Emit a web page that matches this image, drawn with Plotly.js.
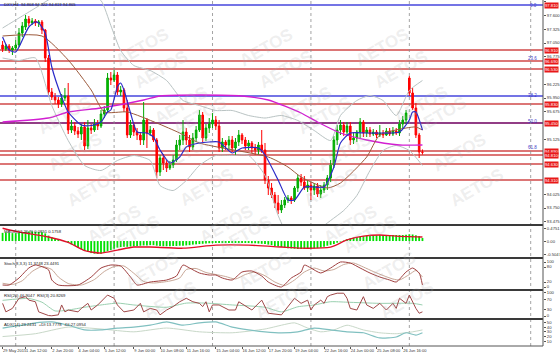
<!DOCTYPE html>
<html><head><meta charset="utf-8">
<script src="https://cdn.plot.ly/plotly-3.0.1.min.js"></script>
<style>html,body{margin:0;padding:0;background:#fff}#chart{width:560px;height:356px}</style>
</head><body><div id="chart"></div>
<script>
// ---------------- DATA ----------------
const openP = [97.01,96.93,96.99,96.91,96.95,97.01,97.25,97.37,97.53,97.45,
97.49,97.45,97.47,97.31,96.75,96.07,95.97,95.91,95.83,95.95,
95.99,95.31,95.39,95.29,95.23,95.37,94.99,95.35,95.31,95.43,
95.39,95.63,95.71,96.35,96.31,96.41,96.07,96.11,95.75,95.21,
95.41,95.27,95.21,95.11,95.51,95.25,95.31,95.11,94.47,94.75,
94.65,94.55,94.61,94.71,95.01,95.11,95.27,95.11,94.97,95.15,
95.31,95.61,95.15,95.35,95.43,95.51,95.39,94.95,95.07,95.01,
95.11,94.95,95.07,95.21,95.11,94.99,95.05,94.95,94.91,95.01,
94.91,94.31,94.15,94.01,93.85,93.71,93.81,93.91,93.95,93.91,
94.15,94.35,94.27,94.15,94.21,94.11,94.19,94.03,94.11,94.21,
94.35,94.61,95.11,95.31,95.41,95.27,95.39,95.11,95.15,95.27,
95.47,95.25,95.31,95.23,95.27,95.21,95.25,95.21,95.29,95.23,
95.29,95.25,95.43,95.51,96.35,96.05,95.75,95.21,94.868];
const highP = [97.09,97.03,97.03,96.99,97.11,97.35,97.47,97.61,97.59,97.55,
97.53,97.51,97.51,97.33,96.81,96.15,96.05,95.97,96.03,96.15,
96.25,95.51,95.47,95.37,95.43,95.47,95.51,95.43,95.53,95.51,
95.71,95.79,96.45,96.47,96.51,96.47,96.19,96.15,95.91,95.51,
95.47,95.35,95.27,95.87,95.55,95.39,95.35,95.15,94.81,94.83,
94.71,94.69,94.81,95.11,95.21,95.51,95.35,95.21,95.25,95.39,
95.71,95.67,95.43,95.55,95.65,95.59,95.51,95.15,95.11,95.19,
95.19,95.15,95.31,95.25,95.17,95.11,95.09,95.03,95.07,95.31,
95.05,94.39,94.25,94.07,94.01,93.91,93.97,94.01,93.99,94.19,
94.41,94.43,94.39,94.31,94.27,94.25,94.25,94.21,94.27,94.41,
94.71,95.19,95.41,95.51,95.47,95.47,95.47,95.27,95.31,95.55,
95.51,95.37,95.37,95.33,95.31,95.41,95.31,95.35,95.35,95.37,
95.35,95.51,95.59,95.71,96.39,96.15,95.85,95.25,94.922];
const lowP = [96.87,96.89,96.85,96.81,96.91,96.97,97.17,97.31,97.39,97.41,
97.39,97.37,97.23,96.67,95.99,95.91,95.83,95.75,95.77,95.89,
95.23,95.25,95.21,95.15,95.11,94.91,94.93,95.23,95.27,95.31,
95.35,95.55,95.67,96.21,96.27,96.01,95.99,95.67,95.15,95.15,
95.19,95.11,95.01,95.01,94.95,95.19,95.07,94.35,94.39,94.51,
94.47,94.51,94.55,94.67,94.91,95.01,95.01,94.87,94.91,95.07,
95.27,95.07,95.09,95.25,95.35,95.31,94.87,94.87,94.91,94.91,
94.87,94.81,94.99,95.03,94.91,94.91,94.85,94.81,94.81,94.85,
94.23,94.01,93.95,93.75,93.63,93.65,93.75,93.85,93.83,93.87,
94.07,94.19,94.11,94.07,93.91,94.01,93.97,93.95,94.05,94.11,
94.27,94.55,95.01,95.21,95.19,95.21,95.01,95.03,95.07,95.15,
95.17,95.17,95.17,95.19,95.15,95.17,95.15,95.19,95.19,95.19,
95.21,95.19,95.35,95.43,95.99,95.71,95.15,94.75,94.819];
const closeP = [96.93,96.99,96.91,96.95,97.01,97.25,97.39,97.53,97.45,97.49,
97.45,97.47,97.31,96.75,96.07,95.97,95.91,95.83,95.95,95.99,
95.31,95.39,95.29,95.23,95.37,94.99,95.35,95.31,95.43,95.39,
95.63,95.71,96.35,96.31,96.41,96.07,96.11,95.75,95.21,95.41,
95.27,95.21,95.11,95.51,95.25,95.31,95.11,94.47,94.75,94.65,
94.55,94.61,94.71,95.01,95.11,95.27,95.11,94.97,95.15,95.31,
95.61,95.15,95.35,95.43,95.51,95.39,94.95,95.07,95.01,95.11,
94.95,95.07,95.21,95.11,94.99,95.05,94.95,94.91,95.01,94.91,
94.31,94.15,94.01,93.85,93.71,93.81,93.91,93.95,93.91,94.15,
94.35,94.27,94.15,94.21,94.11,94.19,94.03,94.11,94.21,94.35,
94.61,95.11,95.31,95.41,95.27,95.39,95.11,95.15,95.27,95.47,
95.25,95.31,95.23,95.27,95.21,95.25,95.21,95.29,95.23,95.29,
95.25,95.43,95.51,95.65,96.05,95.75,95.21,94.87,94.865];

// moving averages / bands: [bar, value]
const maFast = [[0,97.17],[2,96.91],[4,96.87],[5,96.97],[8,97.37],[10,97.47],[11,97.45],[13,97.25],[15,96.57],[18,95.97],[20,95.67],[24,95.41],[27,95.40],[30,95.47],[32,95.67],[33,95.71],[35,96.17],[36,96.25],[37,96.11],[39,95.65],[41,95.27],[44,95.25],[46,95.17],[48,94.91],[51,94.65],[54,94.77],[56,94.97],[60,95.05],[63,95.07],[66,95.07],[70,94.85],[73,94.95],[78,94.95],[80,94.81],[84,94.31],[87,93.91],[89,93.91],[92,94.17],[95,94.17],[98,94.17],[101,94.57],[103,95.05],[106,95.25],[111,95.25],[115,95.25],[121,95.27],[124,95.51],[125,95.67],[126,95.67],[128,95.31]];
const maMid = [[0,97.19],[12,97.19],[20,96.71],[27,96.11],[31,95.67],[38,95.67],[47,95.45],[54,95.25],[60,95.05],[81,94.77],[87,94.57],[91,94.37],[99,94.15],[103,94.25],[111,94.77],[115,95.21],[123,95.35],[126,95.37],[128,95.31]];
const maSlow = [[0,95.47],[14,95.55],[20,95.67],[30,95.75],[43,95.91],[48,95.99],[60,96.01],[73,95.99],[81,95.91],[91,95.65],[96,95.47],[103,95.25],[111,95.11],[121,95.01],[128,95.01]];
const bbUpper = [[0,97.35],[5,97.55],[10,97.75],[15,97.95],[20,98.1],[25,98.1],[30,97.9],[33,97.4],[36,96.9],[40,96.6],[45,96.5],[50,96.3],[55,95.9],[60,95.8],[65,95.7],[70,95.7],[75,95.6],[80,95.55],[85,95.6],[90,95.5],[95,95.3],[100,95.1],[103,95.6],[108,95.9],[112,96.0],[116,95.9],[120,95.6],[124,96.1],[128,96.3]];
const bbLower = [[0,96.75],[5,96.7],[10,96.75],[15,95.8],[20,95.1],[25,94.6],[30,94.5],[35,94.7],[40,94.8],[45,94.7],[48,94.2],[52,94.1],[56,94.3],[60,94.6],[65,94.8],[70,94.8],[75,94.8],[80,94.4],[84,93.6],[88,93.1],[92,93.1],[96,93.3],[100,93.5],[104,93.7],[108,94.0],[112,94.5],[116,94.9],[120,95.0],[124,94.9],[128,94.6]];

// horizontal levels
const redLevels = [96.91, 96.69, 96.53, 95.83, 95.45, 94.89, 94.81, 94.63, 94.31];
const blueLevels = [97.81, 95.99];
const purpleLevels = [95.45];
const boxLevels = [97.81, 96.91, 96.69, 96.53, 95.83, 95.45, 94.89, 94.81, 94.63, 94.31];
const fibLabels = ['0.0','23.6','38.2','50.0','61.8'];
const fibPrices = [97.80, 96.75, 96.01, 95.49, 94.97];
const priceTicks = [93.475,93.750,94.025,95.125,95.675,95.950,96.225,96.775,97.050,97.325,97.600,97.875];

// MACD histogram (one value per bar) and signal [bar, value]
const macdHist = [0.30,0.31,0.30,0.29,0.29,0.30,0.32,0.34,0.35,0.35,
0.34,0.33,0.32,0.28,0.20,0.14,0.09,0.05,0.02,0.00,
-0.06,-0.12,-0.18,-0.24,-0.30,-0.36,-0.40,-0.44,-0.46,-0.47,
-0.46,-0.42,-0.37,-0.33,-0.28,-0.24,-0.22,-0.21,-0.21,-0.20,
-0.19,-0.18,-0.17,-0.16,-0.16,-0.15,-0.15,-0.17,-0.18,-0.19,
-0.19,-0.19,-0.18,-0.18,-0.17,-0.17,-0.16,-0.15,-0.13,-0.12,
-0.11,-0.10,-0.09,-0.08,-0.07,-0.07,-0.07,-0.07,-0.07,-0.07,
-0.07,-0.07,-0.07,-0.07,-0.07,-0.07,-0.08,-0.08,-0.09,-0.10,
-0.11,-0.13,-0.15,-0.18,-0.20,-0.22,-0.24,-0.26,-0.27,-0.28,
-0.29,-0.29,-0.29,-0.28,-0.27,-0.27,-0.26,-0.24,-0.21,-0.17,
-0.14,-0.11,-0.06,-0.02,0.02,0.07,0.10,0.12,0.14,0.16,
0.18,0.19,0.20,0.21,0.21,0.22,0.22,0.22,0.22,0.22,
0.22,0.22,0.22,0.23,0.25,0.24,0.21,0.18,0.11];
const macdSignal = [[0,0.47],[5,0.33],[14,0.15],[20,-0.05],[25,-0.35],[30,-0.44],[35,-0.33],[40,-0.22],[45,-0.22],[55,-0.26],[65,-0.15],[75,-0.15],[85,-0.22],[91,-0.26],[100,-0.22],[105,0.04],[110,0.18],[115,0.22],[120,0.18],[128,0.15]];
const macdTicks = [0.4751, 0, -0.5047];
const macdTickText = ['0.4751','0.00','-0.5047'];

// Stochastic [bar, value]
const stochMain = [[0,8],[2,8],[5,36],[8,76],[10,88],[14,69],[15,28],[17,8],[23,8],[27,40],[30,76],[33,88],[36,84],[39,40],[41,8],[45,20],[50,28],[53,44],[55,88],[57,76],[60,56],[63,48],[65,48],[67,36],[70,28],[73,60],[76,64],[79,44],[81,20],[85,0],[88,36],[91,60],[92,88],[94,76],[97,56],[100,76],[103,100],[106,96],[109,76],[112,56],[115,40],[118,28],[120,20],[123,60],[125,76],[127,56],[128,8]];
const stochSignal = [[0,15],[3,10],[6,25],[9,62],[12,82],[15,70],[17,40],[20,14],[24,8],[28,30],[31,62],[34,82],[37,84],[40,55],[43,22],[46,16],[51,24],[54,36],[56,70],[59,74],[62,58],[65,50],[68,42],[71,32],[74,50],[77,60],[80,45],[83,20],[86,6],[89,28],[92,60],[95,76],[98,64],[101,70],[104,90],[107,96],[110,80],[113,62],[116,46],[119,32],[121,28],[124,50],[126,66],[128,40]];

// RSI [bar, value]
const rsiMain = [[0,55],[1,18],[3,33],[5,77],[7,84],[8,69],[10,62],[11,18],[14,2],[15,1],[17,5],[18,48],[19,18],[20,26],[23,18],[24,33],[26,55],[27,26],[29,48],[31,77],[32,91],[34,77],[35,48],[37,18],[40,26],[42,55],[43,18],[45,33],[47,26],[48,5],[50,26],[52,41],[54,62],[56,77],[58,62],[60,55],[61,41],[62,62],[63,18],[64,48],[66,48],[69,26],[71,26],[72,62],[75,33],[76,26],[79,69],[81,12],[85,5],[87,41],[89,77],[91,55],[93,69],[94,26],[95,48],[97,69],[98,55],[99,84],[100,91],[102,99],[104,99],[105,77],[106,33],[108,26],[110,84],[111,48],[113,33],[115,55],[117,26],[119,55],[120,33],[121,77],[123,55],[124,91],[125,62],[126,33],[127,12],[128,18]];
const rsiSignal = [[0,68],[8,76],[12,60],[16,22],[20,26],[25,38],[30,48],[35,56],[40,48],[50,38],[56,56],[62,56],[70,48],[80,38],[85,18],[90,40],[95,48],[100,62],[105,60],[115,55],[125,55],[128,48]];

// ADX [bar, value]
const adxMain = [[0,38],[6,44],[10,49],[15,51],[20,44],[25,34],[30,34],[35,38],[40,40],[45,44],[50,51],[55,44],[60,49],[65,51],[70,40],[75,34],[80,30],[85,28],[90,30],[95,38],[100,34],[105,30],[110,28],[115,17],[120,19],[123,28],[126,23],[128,28]];
const adxDi = [[0,20],[10,26],[20,40],[30,36],[40,30],[50,38],[60,30],[70,28],[80,36],[85,44],[89,49],[93,38],[97,30],[101,34],[105,44],[110,34],[115,28],[120,26],[125,30],[128,34]];

// time axis labels
const tickBars = [0,7,15,23,31,40,48,56,65,73,81,89,98,106,114,122];
const tickLabels = ['29 May 2015','1 Jun 12:00','2 Jun 20:00','4 Jun 04:00','5 Jun 12:00','9 Jun 00:00','10 Jun 08:00','11 Jun 16:00','15 Jun 04:00','16 Jun 12:00','17 Jun 20:00','19 Jun 04:00','22 Jun 16:00','24 Jun 00:00','25 Jun 08:00','26 Jun 16:00'];
const separatorBars = [4, 34, 64, 94, 124, 161];

const panelLabels = ['DXY,H4  94.868 94.922 94.819 94.865','MACD(12,26,9) 0.0851 0.1758','Stoch(8,3,3) 11.3748 23.4491','RSI(20) 46.9047  RSI(3) 20.8269','ADX(14) 23.2431  +DI:13.7778  -DI:27.0954'];

// ---------------- CHART ----------------
const bars = closeP.map((_, i) => i);
const xs = a => a.map(p => p[0]);
const ys = a => a.map(p => p[1]);
const FONT = 'Liberation Sans, Arial, sans-serif';

function line(arr, yaxis, color, width, shape) {
  return {type:'scatter', mode:'lines', x:xs(arr), y:ys(arr), xaxis:'x', yaxis:yaxis,
    line:{color:color, width:width, shape:shape||'spline', smoothing:0.6}, hoverinfo:'skip', showlegend:false};
}

const traces = [
  line(bbUpper,'y','#b9c3c3',1),
  line(bbLower,'y','#b9c3c3',1),
  line(maSlow,'y','#d21ed2',1.3),
  line(maMid,'y','#9c5a3c',1),
  {type:'candlestick', x:bars, open:openP, high:highP, low:lowP, close:closeP, xaxis:'x', yaxis:'y',
   increasing:{line:{color:'#00a800', width:1}, fillcolor:'#00c000'},
   decreasing:{line:{color:'#ff0000', width:1}, fillcolor:'#ff0000'},
   whiskerwidth:0, hoverinfo:'skip', showlegend:false},
  line(maFast,'y','#2a2ac8',1.2),
  {type:'bar', x:bars, y:macdHist, xaxis:'x', yaxis:'y2', marker:{color:'#00e000', line:{width:0}}, width:0.55, hoverinfo:'skip', showlegend:false},
  line(macdSignal,'y2','#e0102a',1.4),
  line(stochSignal,'y3','#c8a898',1),
  line(stochMain,'y3','#a04040',1),
  line(rsiSignal,'y4','#9ad0b0',1),
  line(rsiMain,'y4','#a04848',1,'linear'),
  line(adxDi,'y5','#c8d8c8',1),
  line(adxMain,'y5','#80c0c0',1.2)
];

const shapes = [];
redLevels.forEach(v => shapes.push({type:'line', xref:'paper', x0:0, x1:1, yref:'y', y0:v, y1:v, line:{color:'#d04848', width:1.5}, layer:'below'}));
blueLevels.forEach(v => shapes.push({type:'line', xref:'paper', x0:0, x1:1, yref:'y', y0:v, y1:v, line:{color:'#4646dc', width:1.3}, layer:'below'}));
purpleLevels.forEach(v => shapes.push({type:'line', xref:'paper', x0:0, x1:1, yref:'y', y0:v, y1:v, line:{color:'#7a2c8c', width:1.5}, layer:'below'}));
separatorBars.forEach(b => shapes.push({type:'line', xref:'x', x0:b, x1:b, yref:'paper', y0:0, y1:1, line:{color:'#8c8c8c', width:0.8, dash:'dot'}, layer:'below'}));
const panelTops = [0.3497, 0.2543, 0.1618, 0.0780];
panelTops.forEach(p => shapes.push({type:'line', xref:'paper', x0:0, x1:1, yref:'paper', y0:p, y1:p, line:{color:'#3a3a3a', width:2}}));
shapes.push({type:'line', xref:'paper', x0:1, x1:1, yref:'paper', y0:0, y1:1, line:{color:'#555', width:1}});
shapes.push({type:'line', xref:'paper', x0:0, x1:1, yref:'paper', y0:0, y1:0, line:{color:'#555', width:1}});

const annotations = [];
// faint diagonal "AETOS" watermarks tiled over the chart
const wmCols = [-40, 105, 262, 410];
const wmRows = [8, 44, 80, 116, 152, 188, 224, 260, 296, 328];
wmCols.forEach(c => wmRows.forEach(r => {
  let px = c + 0.54 * r;
  if (px < 18 || px > 522) return;
  px = Math.min(Math.max(px, 32), 510);
  const py = Math.min(Math.max(r, 22), 326);
  annotations.push({xref:'paper', yref:'paper', x:px/543, y:1 - py/346, text:'<b>AETOS</b>', showarrow:false,
    textangle:-30, font:{family:FONT, size:17, color:'rgba(170,170,170,0.2)'}});
}));
boxLevels.forEach(v => annotations.push({xref:'paper', x:1, xanchor:'left', xshift:1, yref:'y', y:v, yanchor:'middle',
  text:v.toFixed(3), showarrow:false, bgcolor:'#e81818', borderpad:0, font:{family:FONT, size:4.2, color:'#fff'}}));
fibLabels.forEach((t, i) => annotations.push({xref:'paper', x:0.993, xanchor:'right', yref:'y', y:fibPrices[i], yanchor:'middle',
  text:t, showarrow:false, font:{family:FONT, size:4.5, color:'#3c3cc8'}}));
const labelY = [1, 0.3445, 0.2510, 0.1585, 0.0755];
panelLabels.forEach((t, i) => annotations.push({xref:'paper', x:0.004, xanchor:'left', yref:'paper', y:labelY[i], yanchor:'top',
  text:t, showarrow:false, font:{family:FONT, size:4.2, color:'#222'}}));

const axFont = {family:FONT, size:4.2, color:'#333'};
const yBase = {side:'right', showgrid:false, zeroline:false, ticks:'outside', ticklen:2, tickcolor:'#555', tickfont:axFont, fixedrange:true, anchor:'x'};

const layout = {
  width:560, height:356, margin:{l:0, r:17, t:0, b:10}, paper_bgcolor:'#fff', plot_bgcolor:'#fff',
  showlegend:false, bargap:0.4,
  xaxis:{range:[-0.79, 164.75], anchor:'y5', showgrid:false, zeroline:false, rangeslider:{visible:false},
    tickmode:'array', tickvals:tickBars, ticktext:tickLabels, ticklabelposition:'outside right', tickangle:0,
    ticks:'outside', ticklen:2, tickcolor:'#555', tickfont:{family:FONT, size:4, color:'#333'}, showline:false},
  yaxis:Object.assign({}, yBase, {domain:[0.3497, 1], range:[93.41, 97.91], tickmode:'array', tickvals:priceTicks, ticktext:priceTicks.map(v=>v.toFixed(3))}),
  yaxis2:Object.assign({}, yBase, {domain:[0.2543, 0.3468], range:[-0.62, 0.55], tickmode:'array', tickvals:macdTicks, ticktext:macdTickText}),
  yaxis3:Object.assign({}, yBase, {domain:[0.1618, 0.2514], range:[-12, 112], tickmode:'array', tickvals:[100,80,20,0]}),
  yaxis4:Object.assign({}, yBase, {domain:[0.0809, 0.1590], range:[-8.7, 108.7], tickmode:'array', tickvals:[100,70,30,0]}),
  yaxis5:Object.assign({}, yBase, {domain:[0, 0.0751], range:[0, 55], tickmode:'array', tickvals:[10,20,30,40,50]}),
  shapes:shapes, annotations:annotations
};

Plotly.newPlot('chart', traces, layout, {staticPlot:true, displayModeBar:false});
</script>
</body></html>
